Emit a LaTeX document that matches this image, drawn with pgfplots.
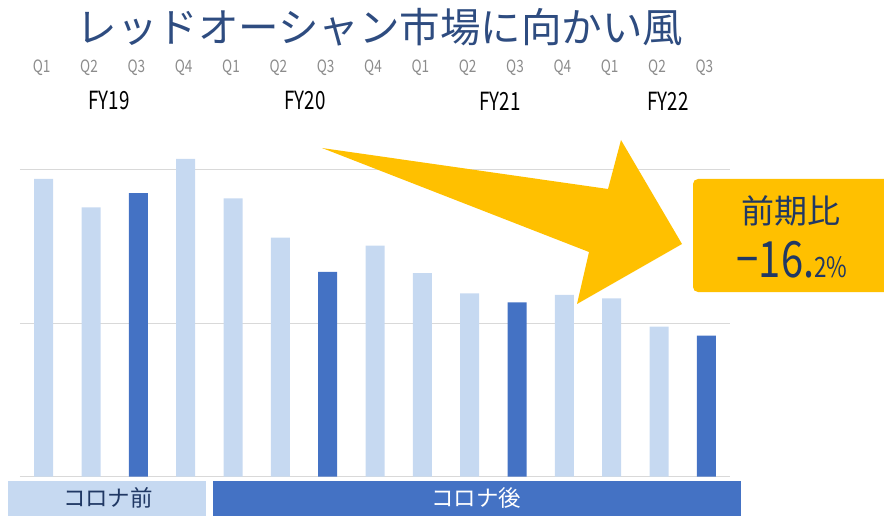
\documentclass[border=0pt]{standalone}
\usepackage{pgfplots}
\pgfplotsset{compat=1.18}
\usepackage{fontspec}
\setmainfont{Noto Sans CJK JP}
\usepackage{graphicx}
\definecolor{lightbar}{HTML}{C6D9F1}
\definecolor{darkbar}{HTML}{4472C4}
\definecolor{titleblue}{HTML}{2E4C80}
\definecolor{navy}{HTML}{203864}
\definecolor{arrowy}{HTML}{FFC000}
\definecolor{qgray}{HTML}{8C8C8C}
\begin{document}
\begin{tikzpicture}
\begin{scope}[x=1pt,y=-1pt]
\path[use as bounding box] (0,0) rectangle (884,516);
\end{scope}
\begin{axis}[
  at={(20pt,-476.7pt)}, anchor=south west,
  scale only axis, width=710pt, height=337.7pt,
  xmin=-0.5, xmax=14.5, ymin=0, ymax=220,
  ybar, bar width=19pt,
  ytick={0,100,200}, yticklabels={},
  xtick=\empty,
  ymajorgrids, grid style={draw=black!15, line width=1.3pt},
  axis line style={draw=none}, major tick length=0pt,
  clip=false,
]
\addplot[fill=lightbar, draw=none, bar shift=0pt] coordinates {
 (0,194) (1,175.5) (3,207) (4,181.4) (5,155.7) (7,150.5) (8,132.7)
 (9,119.5) (11,118.4) (12,116.2) (13,97.7)};
\addplot[fill=darkbar, draw=none, bar shift=0pt] coordinates {
 (2,184.8) (6,133.4) (10,113.6) (14,91.9)};
\end{axis}
\begin{scope}[x=1pt,y=-1pt]
% title
\node[text=titleblue, font=\fontsize{40.5}{42}\selectfont] at (380,27) {レッドオーシャン市場に向かい風};
% quarter labels
\foreach \i/\q in {0/Q1,1/Q2,2/Q3,3/Q4,4/Q1,5/Q2,6/Q3,7/Q4,8/Q1,9/Q2,10/Q3,11/Q4,12/Q1,13/Q2,14/Q3}
  \node[text=qgray, font=\fontsize{17}{18}\selectfont] at ({20+47.333*(\i+0.5)-2},68) {\scalebox{0.8}[1]{\q}};
% FY labels
\foreach \x/\f in {109/FY19,305/FY20,500/FY21,668/FY22}
  \node[text=black, font=\fontsize{25}{26}\selectfont] at (\x,101) {\scalebox{0.75}[1]{\f}};
% arrow
\fill[arrowy] (322,148) -- (608,189) -- (621,140) -- (682,244) -- (577,304) -- (589,252) -- cycle;
% box
\fill[arrowy] (884,179) [rounded corners=5pt] -- (693,179) -- (693,292) [sharp corners] -- (884,292) -- cycle;
\node[text=navy, font=\fontsize{33}{35}\selectfont] at (791,211) {前期比};
\node[text=navy, anchor=base] at (792,277) {\fontsize{50}{52}\selectfont\scalebox{0.8}[1]{−16.}\fontsize{28}{30}\selectfont\scalebox{0.8}[1]{2\%}};
% bands
\fill[lightbar] (8,481) rectangle (206,516);
\fill[darkbar] (213,481) rectangle (741,516);
\node[text=navy, font=\fontsize{22.5}{24}\selectfont] at (108,498) {コロナ前};
\node[text=white, font=\fontsize{22.5}{24}\selectfont] at (476,498) {コロナ後};
\end{scope}
\end{tikzpicture}
\end{document}
